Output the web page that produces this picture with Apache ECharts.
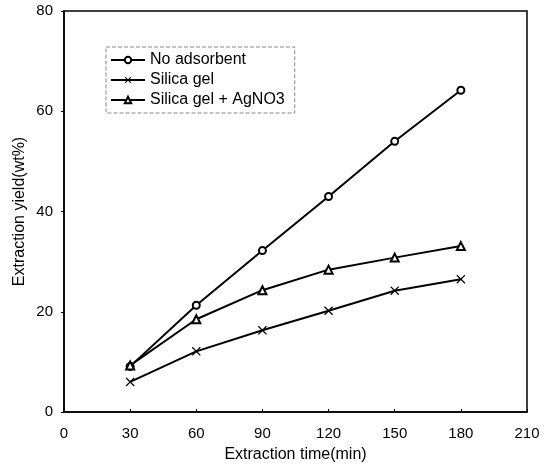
<!DOCTYPE html>
<html>
<head>
<meta charset="utf-8">
<script src="https://cdn.jsdelivr.net/npm/echarts@6/dist/echarts.min.js"></script>
<style>
  html, body { margin: 0; padding: 0; background: #fff; }
  #chart { width: 549px; height: 467px; }
</style>
</head>
<body>
<div id="chart"></div>
<script>
var times = [30, 60, 90, 120, 150, 180];
var noAdsorbent = [9.1, 21.3, 32.2, 43.0, 54.0, 64.2];
var silicaGel = [6.0, 12.1, 16.3, 20.2, 24.2, 26.5];
var silicaAgNO3 = [9.3, 18.5, 24.3, 28.4, 30.8, 33.1];
var seriesNames = ['No adsorbent', 'Silica gel', 'Silica gel + AgNO3'];

var xMark = 'path://M0,1L1,0L5,4L9,0L10,1L6,5L10,9L9,10L5,6L1,10L0,9L4,5Z';
var font = 'Liberation Sans, Arial, sans-serif';

function pairs(ys) {
    var out = [];
    for (var i = 0; i < times.length; i++) out.push([times[i], ys[i]]);
    return out;
}

function makeSeries(name, ys, symbol, size) {
    return {
        name: name,
        type: 'line',
        data: pairs(ys),
        symbol: symbol,
        symbolSize: size,
        showAllSymbol: true,
        lineStyle: { color: '#000', width: 2 },
        itemStyle: { color: '#000', borderWidth: 1.5 },
        emphasis: { disabled: true },
        z: 3
    };
}

var chart = echarts.init(document.getElementById('chart'));
chart.setOption({
    animation: false,
    backgroundColor: '#fff',
    textStyle: { fontFamily: font },
    grid: {
        left: 64, right: 22, top: 11, bottom: 55,
        outerBoundsMode: 'none',
        containLabel: false,
        show: true, borderColor: '#000', borderWidth: 1.5, backgroundColor: 'transparent'
    },
    legend: {
        orient: 'vertical',
        left: 106, top: 47,
        data: seriesNames,
        itemWidth: 34, itemHeight: 8, itemGap: 2, itemTextGap: 5,
        padding: [4, 10, 4, 4],
        borderColor: '#888', borderWidth: 1, borderType: 'dashed',
        backgroundColor: '#fff',
        textStyle: { color: '#000', fontSize: 16, lineHeight: 18, fontFamily: font }
    },
    xAxis: {
        type: 'value',
        min: 0, max: 210, interval: 30,
        name: 'Extraction time(min)',
        nameLocation: 'middle', nameGap: 35,
        nameMoveOverlap: false,
        nameTextStyle: { color: '#000', fontSize: 16, fontFamily: font },
        axisLine: { lineStyle: { color: '#000', width: 1.5 } },
        axisTick: { inside: true, length: 3, lineStyle: { color: '#000' } },
        axisLabel: { color: '#000', fontSize: 15, margin: 14, fontFamily: font },
        splitLine: { show: false }
    },
    yAxis: {
        type: 'value',
        min: 0, max: 80, interval: 20,
        name: 'Extraction yield(wt%)',
        nameLocation: 'middle', nameGap: 36,
        nameMoveOverlap: false,
        nameTextStyle: { color: '#000', fontSize: 16, fontFamily: font },
        axisLine: { lineStyle: { color: '#000', width: 1.5 } },
        axisTick: { length: 3, lineStyle: { color: '#000' } },
        axisLabel: { color: '#000', fontSize: 15, margin: 11, fontFamily: font },
        splitLine: { show: false }
    },
    series: [
        makeSeries(seriesNames[0], noAdsorbent, 'emptyCircle', 7),
        makeSeries(seriesNames[1], silicaGel, xMark, 9),
        makeSeries(seriesNames[2], silicaAgNO3, 'emptyTriangle', 8)
    ]
});
</script>
</body>
</html>
